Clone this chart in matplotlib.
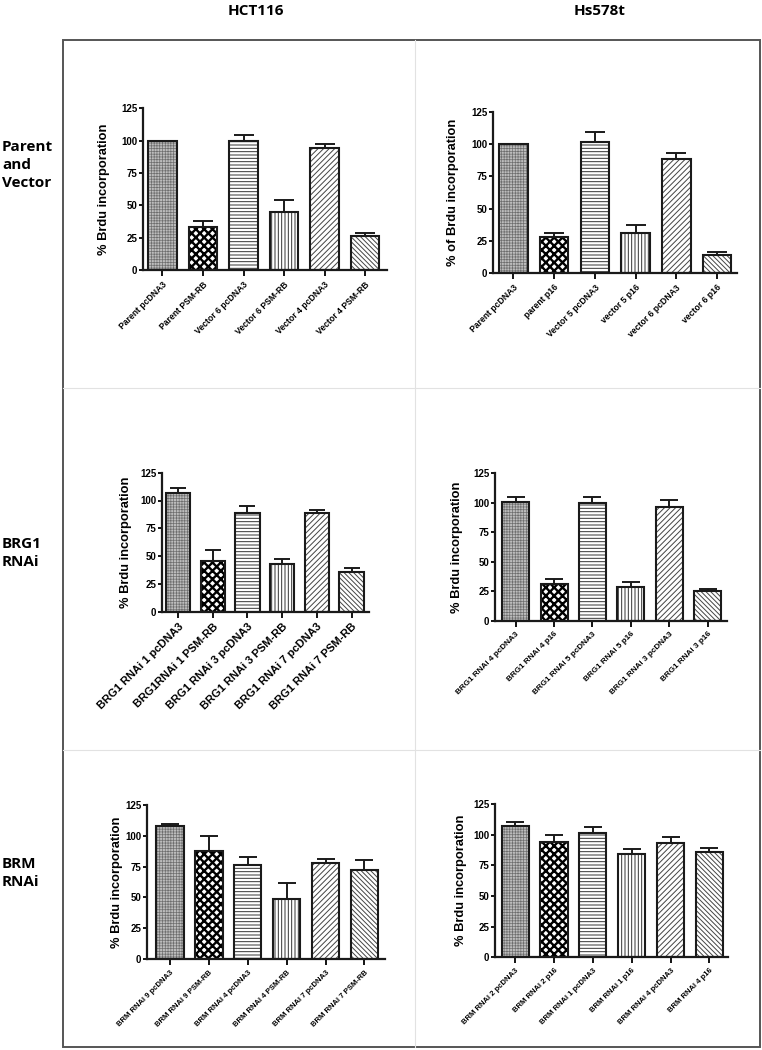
import numpy as np
import matplotlib
matplotlib.use("Agg")
import matplotlib.pyplot as plt
from matplotlib.patches import Rectangle

plt.rcParams['font.family'] = ['Liberation Sans', 'DejaVu Sans']
plt.rcParams['font.weight'] = 'bold'

# ---- data ----
labels_p1 = ['Parent pcDNA3', 'Parent PSM-RB', 'Vector 6 pcDNA3', 'Vector 6 PSM-RB', 'Vector 4 pcDNA3', 'Vector 4 PSM-RB']
vals_p1 = [100, 33.5, 100, 45, 94.5, 26.3]
errs_p1 = [0, 4.5, 4.7, 9.5, 3.3, 2.1]

labels_p2 = ['Parent pcDNA3', 'parent p16', 'Vector 5 pcDNA3', 'vector 5 p16', 'vector 6 pcDNA3', 'vector 6 p16']
vals_p2 = [100, 28.4, 101.3, 30.9, 88.6, 14.2]
errs_p2 = [0, 3.0, 7.7, 6.7, 4.4, 2.3]

labels_p3 = ['BRG1 RNAi 1 pcDNA3', 'BRG1RNAi 1 PSM-RB', 'BRG1 RNAi 3 pcDNA3', 'BRG1 RNAi 3 PSM-RB', 'BRG1 RNAi 7 pcDNA3', 'BRG1 RNAi 7 PSM-RB']
vals_p3 = [107, 45.6, 88.5, 42.9, 88.5, 35.4]
errs_p3 = [4, 9.9, 6.5, 4.2, 3, 3.6]

labels_p4 = ['BRG1 RNAi 4 pcDNA3', 'BRG1 RNAi 4 p16', 'BRG1 RNAi 5 pcDNA3', 'BRG1 RNAi 5 p16', 'BRG1 RNAi 3 pcDNA3', 'BRG1 RNAi 3 p16']
vals_p4 = [101, 31.1, 100, 28.8, 96, 25.4]
errs_p4 = [3.5, 3.9, 4.5, 3.7, 6, 1.4]

labels_p5 = ['BRM RNAi 9 pcDNA3', 'BRM RNAi 9 PSM-RB', 'BRM RNAi 4 pcDNA3', 'BRM RNAi 4 PSM-RB', 'BRM RNAi 7 pcDNA3', 'BRM RNAi 7 PSM-RB']
vals_p5 = [108, 88, 76, 48.7, 78, 72]
errs_p5 = [1.5, 12, 7, 13, 3, 8]

labels_p6 = ['BRM RNAi 2 pcDNA3', 'BRM RNAi 2 p16', 'BRM RNAi 1 pcDNA3', 'BRM RNAi 1 p16', 'BRM RNAi 4 pcDNA3', 'BRM RNAi 4 p16']
vals_p6 = [107, 94, 101, 84, 93, 86]
errs_p6 = [3, 6, 5, 4, 5, 3]

col_titles = ['HCT116', 'Hs578t']
row_titles = ['Parent\nand\nVector', 'BRG1\nRNAi', 'BRM\nRNAi']

W, H = 762, 1050
fig = plt.figure(figsize=(W / 100, H / 100), dpi=100)


def fx(x):
    return x / W


def fy(y):
    return 1 - y / H


# frame + dividers (pixel coords)
fig.add_artist(Rectangle((fx(63), fy(1047)), fx(760) - fx(63), fy(40) - fy(1047),
                         transform=fig.transFigure, fill=False, ec='#555555', lw=1.4))
fig.add_artist(plt.Line2D([fx(415), fx(415)], [fy(40), fy(1047)], transform=fig.transFigure, color='#e2e2e2', lw=0.8))
for yy in (388, 750):
    fig.add_artist(plt.Line2D([fx(63), fx(760)], [fy(yy), fy(yy)], transform=fig.transFigure, color='#e2e2e2', lw=0.8))

fig.text(fx(256), fy(11), col_titles[0], ha='center', va='center', fontsize=11, fontweight='bold', family='Open Sans')
fig.text(fx(600), fy(11), col_titles[1], ha='center', va='center', fontsize=11, fontweight='bold', family='Open Sans')
fig.text(fx(2), fy(165), row_titles[0], ha='left', va='center', fontsize=11, fontweight='bold', family='Open Sans', linespacing=1.35)
fig.text(fx(2), fy(553), row_titles[1], ha='left', va='center', fontsize=11, fontweight='bold', family='Open Sans', linespacing=1.35)
fig.text(fx(2), fy(873), row_titles[2], ha='left', va='center', fontsize=11, fontweight='bold', family='Open Sans', linespacing=1.35)

# bar fill styles: (facecolor, hatch colour, hatch, hatch linewidth)
styles = [
    ('#bdbdbd', '#6e6e6e', '++++++', 0.5),
    ('white', 'black', 'xxxx', 1.7),
    ('white', '#333333', '-----', 0.7),
    ('white', '#333333', '|||||', 0.7),
    ('white', '#444444', '//////', 0.7),
    ('white', '#444444', '\\\\\\\\\\\\\\', 0.7),
]

# panel layout: axis x, axis end x, y of 125, y of 0, left/right margin (in bar pitch), label font, ylabel x, capsize
panels = [
    (labels_p1, vals_p1, errs_p1, '% Brdu incorporation', (143, 387, 108.4, 270, 0.48, 0.54, 6.2, 110, 7)),
    (labels_p2, vals_p2, errs_p2, '% of Brdu incorporation', (493, 737, 111.7, 273.3, 0.50, 0.49, 6.2, 459, 7)),
    (labels_p3, vals_p3, errs_p3, '% Brdu incorporation', (161.7, 369, 472.7, 611.7, 0.47, 0.50, 8.0, 132, 6)),
    (labels_p4, vals_p4, errs_p4, '% Brdu incorporation', (495, 726.7, 473.2, 620.7, 0.54, 0.50, 5.9, 463, 6.5)),
    (labels_p5, vals_p5, errs_p5, '% Brdu incorporation', (146.7, 385, 805, 959, 0.60, 0.53, 5.5, 123, 6.5)),
    (labels_p6, vals_p6, errs_p6, '% Brdu incorporation', (495, 728, 804, 957.3, 0.52, 0.48, 5.5, 467, 6.5)),
]

for labels, vals, errs, ylab, lay in panels:
    x0, x1, ytop, ybot, ml, mr, lfs, ylx, cap = lay
    ax = fig.add_axes([fx(x0), fy(ybot), fx(x1) - fx(x0), fy(ytop) - fy(ybot)])
    x = np.arange(len(vals))
    for i in range(len(vals)):
        fc, hc, hatch, hlw = styles[i]
        with plt.rc_context({'hatch.linewidth': hlw}):
            ax.bar(x[i], vals[i], width=0.7, color=fc, edgecolor=hc, hatch=hatch, lw=0, zorder=2)
        ax.bar(x[i], vals[i], width=0.7, fill=False, edgecolor='#1a1a1a', lw=1.5, zorder=3)
    e = np.array(errs)
    ax.errorbar(x[e > 0], np.array(vals)[e > 0], yerr=[np.zeros((e > 0).sum()), e[e > 0]],
                fmt='none', ecolor='#1a1a1a', elinewidth=1.4, capsize=cap, capthick=1.4, zorder=4)
    ax.set_xlim(-ml, len(vals) - 1 + mr)
    ax.set_ylim(0, 125)
    ax.set_yticks([0, 25, 50, 75, 100, 125])
    ax.set_xticks(x)
    ax.set_xticklabels(labels, rotation=45, ha='right', va='top', rotation_mode='anchor', fontsize=lfs)
    ax.tick_params(axis='y', labelsize=7, length=3, width=1.3, pad=1)
    ax.tick_params(axis='x', length=4, width=1.3, pad=3)
    for s in ('top', 'right'):
        ax.spines[s].set_visible(False)
    for s in ('left', 'bottom'):
        ax.spines[s].set_linewidth(1.6)
        ax.spines[s].set_color('#1a1a1a')
    ax.set_ylabel(ylab, fontsize=9.3, fontweight='bold')
    ax.yaxis.set_label_coords((ylx - x0) / (x1 - x0), 0.5)
    ax.patch.set_alpha(0)

fig.savefig('out.png', dpi=100)
